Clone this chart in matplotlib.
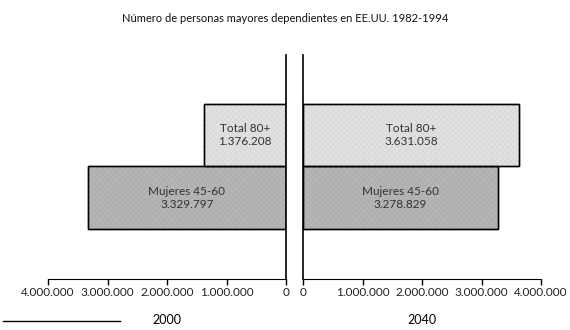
"""Mirrored bar chart: dependent elderly population in the US, 2000 vs 2040."""

import matplotlib
matplotlib.use("Agg")
import matplotlib.pyplot as plt
from matplotlib.lines import Line2D
from matplotlib.ticker import FuncFormatter

plt.rcParams['font.family'] = ['Lato', 'DejaVu Sans']
plt.rcParams['hatch.linewidth'] = 0.3

title = "Número de personas mayores dependientes en EE.UU. 1982-1994"
groups = ["Mujeres 45-60", "Total 80+"]
values_2000 = [3329797, 1376208]
values_2040 = [3278829, 3631058]
years = ["2000", "2040"]
colors = ["#b5b5b5", "#e1e1e1"]
hatch_colors = ["#a8a8a8", "#d2d2d2"]
ticks = [0, 1000000, 2000000, 3000000, 4000000]


def fmt_num(v, pos=None):
    return f"{int(v):,}".replace(",", ".")


fig = plt.figure(figsize=(5.7, 3.3), dpi=100)
W, H = 570, 330
ax_l = fig.add_axes([48 / W, (H - 279) / H, (286 - 48) / W, (279 - 55) / H])
ax_r = fig.add_axes([303 / W, (H - 279) / H, (541 - 303) / W, (279 - 55) / H])

ypos = [0, 1]
for ax, vals, year in [(ax_l, values_2000, years[0]), (ax_r, values_2040, years[1])]:
    bars = ax.barh(ypos, vals, height=1.0, color=colors, edgecolor="black", linewidth=1.0)
    for b, hc in zip(bars, hatch_colors):
        # fine dither-like texture, drawn as a second patch without outline
        ax.barh(b.get_y() + 0.5, b.get_width(), height=1.0, color="none",
                edgecolor=hc, hatch="xxxxxx", linewidth=0)
        ax.barh(b.get_y() + 0.5, b.get_width(), height=1.0, color="none",
                edgecolor="black", linewidth=1.0)
    for y, v, g in zip(ypos, vals, groups):
        ax.text(v / 2, y, f"{g}\n{fmt_num(v)}", ha="center", va="center",
                fontsize=8.5, color="#333333", linespacing=1.15)
    ax.set_xlim(0, 4000000)
    ax.set_ylim(-1.286, 2.27)
    ax.set_xticks(ticks)
    ax.xaxis.set_major_formatter(FuncFormatter(fmt_num))
    ax.tick_params(axis="x", length=4, width=1, labelsize=8.5, pad=2, labelcolor="#222222")
    ax.set_yticks([])
    ax.spines["top"].set_visible(False)
    ax.set_xlabel(year, fontsize=9, labelpad=11)

ax_l.invert_xaxis()
ax_l.spines["left"].set_visible(False)
ax_r.spines["right"].set_visible(False)
ax_l.spines["right"].set_linewidth(1.2)
ax_r.spines["left"].set_linewidth(1.2)

fig.text(0.5, (H - 18) / H, title, ha="center", va="center", fontsize=8, color="#111111")
fig.add_artist(Line2D([3 / W, 120 / W], [(H - 321) / H] * 2, color="black", linewidth=1))

fig.savefig("out.png", dpi=100)
